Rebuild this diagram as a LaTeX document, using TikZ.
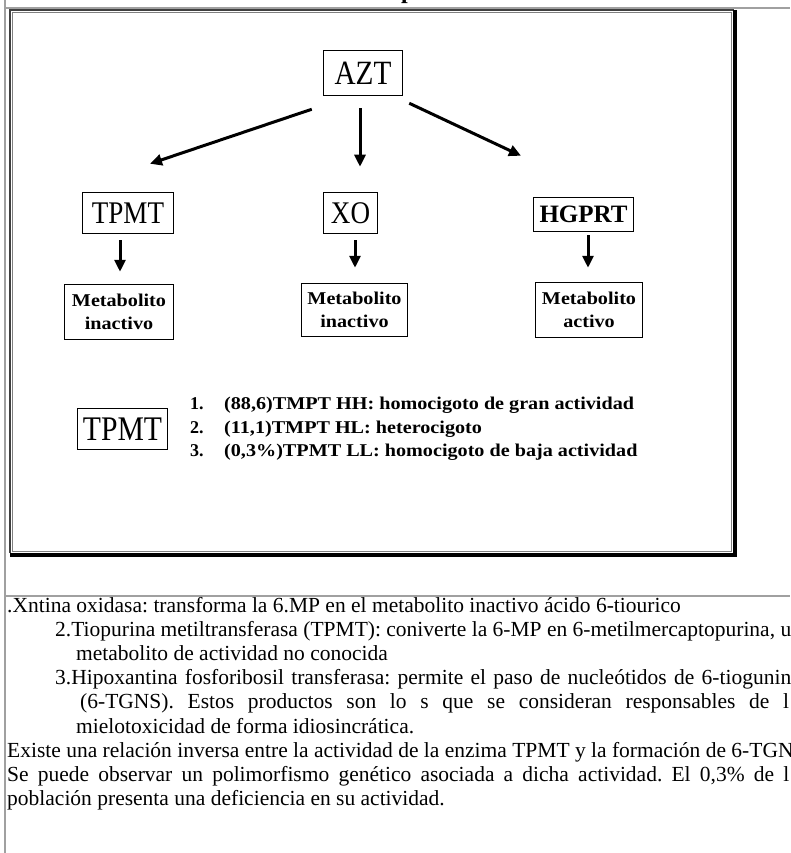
\documentclass[tikz,border=0pt]{standalone}
\usepackage{fontspec}
\usepackage{graphicx}
\setmainfont{Liberation Serif}
\usetikzlibrary{arrows.meta}
\frenchspacing

\definecolor{tablegray}{HTML}{A0A0A0}
\definecolor{framegray}{HTML}{404040}
\newcommand{\narrowlabel}[1]{\scalebox{0.86}[1]{#1}}
\newcommand{\widelabel}[1]{\scalebox{1.12}[1]{#1}}

\begin{document}
\begin{tikzpicture}[x=1pt,y=1pt,
		box/.style={rectangle,draw=black,line width=1.5pt,inner sep=0pt},
		flow/.style={line width=3pt,-{Triangle[length=12pt,width=11pt]}},
		body/.style={anchor=base west,inner sep=0pt,font=\fontsize{21.5}{24}\selectfont}]
		\fill[white] (0,0) rectangle (790,-853);
		\useasboundingbox (0,0) rectangle (790,-853);

		% page table
		\draw[tablegray,line width=2pt] (5,0) -- (5,-853);
		\draw[tablegray,line width=2pt] (5,-8) -- (790,-8);
		\draw[tablegray,line width=2.5pt] (5,-596) -- (790,-596);
		\node[anchor=base west,inner sep=0pt,font=\bfseries\fontsize{24}{24}\selectfont] (title) at (401,1.5) {p};

		% picture frame
		\draw[framegray,line width=2pt] (10,-553) -- (10,-10) -- (734,-10);
		\draw[gray,line width=1.2pt] (12.5,-12.5) rectangle (731.5,-551.5);
		\draw[black,line width=4.5pt] (735,-10) -- (735,-555) -- (10,-555);

		% enzymes
		\node[box,minimum width=79pt,minimum height=45pt,font=\fontsize{34}{34}\selectfont] (azt) at (363,-73) {\narrowlabel{AZT}};
		\node[box,minimum width=91pt,minimum height=41pt,font=\fontsize{31.5}{31.5}\selectfont] (tpmt) at (128,-213) {\narrowlabel{TPMT}};
		\node[box,minimum width=54pt,minimum height=41pt,font=\fontsize{31.5}{31.5}\selectfont] (xo) at (350.5,-213) {\narrowlabel{XO}};
		\node[box,minimum width=100pt,minimum height=34pt,font=\bfseries\fontsize{25}{25}\selectfont] (hgprt) at (583.5,-214.5) {HGPRT};

		% metabolites
		\node[box,minimum width=109pt,minimum height=55pt,align=center,font=\bfseries\fontsize{18}{23}\selectfont] (mtpmt) at (119,-312) {\widelabel{Metabolito}\\\widelabel{inactivo}};
		\node[box,minimum width=106pt,minimum height=53pt,align=center,font=\bfseries\fontsize{18}{23}\selectfont] (mxo) at (354.5,-310) {\widelabel{Metabolito}\\\widelabel{inactivo}};
		\node[box,minimum width=107pt,minimum height=55pt,align=center,font=\bfseries\fontsize{18}{23}\selectfont] (mhgprt) at (589,-310) {\widelabel{Metabolito}\\\widelabel{activo}};

		% AZT -> enzymes
		\draw[flow] ([shift={(-11,-13)}]azt.south west) -- ([shift={(22,28)}]tpmt.north);
		\draw[flow] ([shift={(-3,-12)}]azt.south) -- ([shift={(9.5,25)}]xo.north);
		\draw[flow] ([shift={(6,-7)}]azt.south east) -- ([shift={(-62.5,41)}]hgprt.north);

		% enzymes -> metabolites
		\draw[flow] ([shift={(-8,-6)}]tpmt.south) -- ([shift={(1,12)}]mtpmt.north);
		\draw[flow] ([shift={(4.5,-6)}]xo.south) -- ([shift={(0.5,15)}]mxo.north);
		\draw[flow] ([shift={(4.5,-3)}]hgprt.south) -- ([shift={(-1,14)}]mhgprt.north);

		% TPMT genotypes
		\node[box,minimum width=90pt,minimum height=41pt,font=\fontsize{34.5}{34.5}\selectfont] (tpmtlow) at (122.5,-429) {\narrowlabel{TPMT}};
		\node[anchor=west,inner sep=0pt,align=left,font=\bfseries\fontsize{18}{23.5}\selectfont] (types) at (190,-429)
			{\makebox[34pt][l]{1.}\widelabel{(88,6)TMPT HH: homocigoto de gran actividad}\\
			 \makebox[34pt][l]{2.}\widelabel{(11,1)TMPT HL: heterocigoto}\\
			 \makebox[34pt][l]{3.}\widelabel{(0,3\%)TPMT LL: homocigoto de baja actividad}};

		% text below the picture
		\node[body] (l1) at (7,-612) {.Xntina oxidasa: transforma la 6.MP en el metabolito inactivo ácido 6-tiourico};
		\node[body] (l2) at (55,-636.2) {2.Tiopurina metiltransferasa (TPMT): coniverte la 6-MP en 6-metilmercaptopurina, u};
		\node[body] (l3) at (76,-660.4) {metabolito de actividad no conocida};
		\node[body] (l4) at (55,-684.6) {\makebox[736pt][s]{3.Hipoxantina fosforibosil transferasa: permite el paso de nucleótidos de 6-tiogunin}};
		\node[body] (l5) at (80,-708.8) {\makebox[709pt][s]{(6-TGNS). Estos productos son lo s que se consideran responsables de l}};
		\node[body] (l6) at (76,-733) {mielotoxicidad de forma idiosincrática.};
		\node[body] (l7) at (7,-757.2) {Existe una relación inversa entre la actividad de la enzima TPMT y la formación de 6-TGN};
		\node[body] (l8) at (7,-781.4) {\makebox[782pt][s]{Se puede observar un polimorfismo genético asociada a dicha actividad. El 0,3\% de l}};
		\node[body] (l9) at (7,-805.6) {población presenta una deficiencia en su actividad.};
\end{tikzpicture}
\end{document}
